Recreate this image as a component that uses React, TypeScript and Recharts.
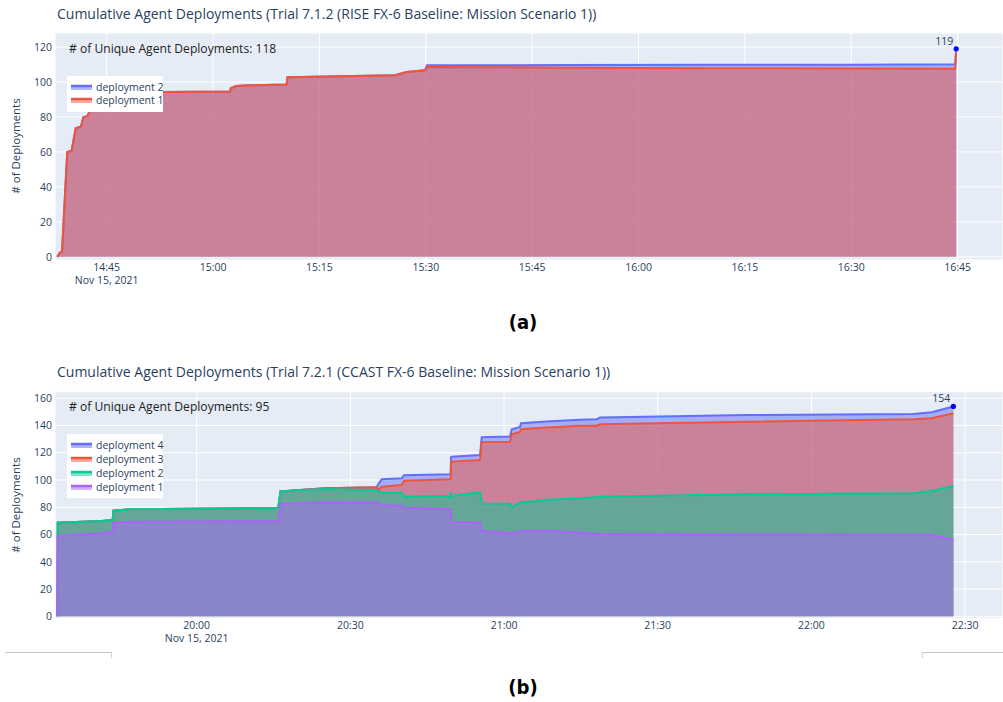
import React from 'react';
import { AreaChart, Area, XAxis, YAxis, CartesianGrid, Legend, ReferenceDot } from 'recharts';

const FONT = '"Open Sans", verdana, arial, sans-serif';
const TEXT = '#2a3f5f';
const BLUE = '#636efa';
const RED = '#EF553B';
const GREEN = '#00cc96';
const PURPLE = '#ab63fa';

// ---------- Chart (a): Trial 7.1.2 — x = minutes after 14:00 ----------
const timesA = [38.03, 38.41, 38.7, 39.44, 40.06, 40.63, 41.38, 41.7, 42.32, 42.64, 43.35, 44.05, 45.47, 47.6, 52.94, 62.4, 62.5, 63.24, 64.5, 70.36, 70.5, 85.66, 87.3, 89.9, 90.17, 110, 130, 150, 164.65, 164.8];
// cumulative (stacked) level through deployment 1
const cumDep1A = [0, 2.5, 3, 60, 60.7, 73.5, 74.5, 79.8, 80.6, 84, 88, 90.5, 92.5, 93.8, 94.2, 94.6, 96.4, 97.7, 98, 98.6, 102.7, 103.8, 105.7, 106.7, 108.6, 108.2, 107.9, 107.7, 107.5, 117];
// cumulative (stacked) level through deployment 2
const cumDep2A = [0, 2.5, 3, 60, 60.7, 73.5, 74.5, 79.8, 80.6, 84, 88, 90.5, 92.5, 93.8, 94.2, 94.6, 96.4, 97.7, 98, 98.6, 102.7, 103.8, 105.7, 106.7, 109.5, 109.7, 109.8, 109.9, 110.1, 119];
const xTicksA = [45, 60, 75, 90, 105, 120, 135, 150, 165];
const xTickLabelsA = ['14:45', '15:00', '15:15', '15:30', '15:45', '16:00', '16:15', '16:30', '16:45'];
const yTicksA = [0, 20, 40, 60, 80, 100, 120];
const uniqueA = 118;

// ---------- Chart (b): Trial 7.2.1 — x = minutes after 19:00 ----------
const timesB = [32.82, 32.88, 41.45, 43.6, 43.76, 46.98, 75.93, 76.36, 80.17, 85.05, 95.14, 95.46, 96.12, 100.02, 100.47, 109.45, 109.57, 109.65, 109.79, 115.31, 115.64, 121.17, 121.5, 123.12, 123.32, 128.33, 134.83, 138.09, 138.74, 167.38, 199.9, 203.5, 207.71];
const cumDep1B = [0, 59, 60.9, 62, 68.7, 69.4, 69.7, 82.2, 83, 83.7, 83.7, 83.3, 81.7, 81, 79.6, 78.5, 78.3, 70, 69.4, 68.9, 62.8, 60.9, 60.4, 62.4, 62.5, 62.8, 61.5, 60.4, 60.3, 60, 59.7, 59.8, 56];
const cumDep2B = [0, 68.7, 70, 70.7, 77.5, 78.5, 79.5, 91.7, 92.6, 93.4, 92.7, 91.5, 90.7, 90.7, 87.8, 88.3, 91, 86.3, 88.6, 90.9, 82.7, 82.5, 80, 83.4, 83.5, 85.4, 86.7, 87.3, 87.8, 89.5, 90.3, 92, 95.6];
const cumDep3B = [0, 68.7, 70, 70.7, 77.5, 78.5, 79.5, 91.7, 92.7, 94, 94.7, 92.8, 95.1, 96.4, 99.5, 100.5, 100.6, 113, 113.5, 114.7, 127.8, 128.1, 133.5, 135.2, 137.2, 138.5, 139.9, 139.9, 140.9, 142.8, 144.6, 145.3, 149];
const cumDep4B = [0, 68.7, 70, 70.7, 77.5, 78.5, 79.5, 91.7, 92.7, 94, 94.7, 97, 100.5, 101.3, 103.5, 104.2, 104.3, 116.8, 117.1, 118.4, 131.4, 132, 137.2, 139, 141.6, 143, 144.2, 144.6, 145.8, 147.7, 148.5, 149.7, 154];
const xTicksB = [60, 90, 120, 150, 180, 210];
const xTickLabelsB = ['20:00', '20:30', '21:00', '21:30', '22:00', '22:30'];
const yTicksB = [0, 20, 40, 60, 80, 100, 120, 140, 160];
const uniqueB = 95;

const dateLabel = 'Nov 15, 2021';

function buildRows(times: number[], series: Record<string, number[]>) {
  return times.map((t, i) => {
    const r: any = { t };
    for (const k of Object.keys(series)) r[k] = series[k][i];
    return r;
  });
}

const rowsA = buildRows(timesA, { dep1: cumDep1A, dep2: cumDep2A });
const rowsB = buildRows(timesB, { dep1: cumDep1B, dep2: cumDep2B, dep3: cumDep3B, dep4: cumDep4B });

const makeXTick = (ticks: number[], labels: string[]) => (props: any) => {
  const { x, y, payload } = props;
  const i = ticks.indexOf(payload.value);
  return (
    <g>
      <text x={x} y={y} dy={10.5} textAnchor="middle" fontSize={10.5} fill={TEXT} fontFamily={FONT}>
        {labels[i]}
      </text>
      {i === 0 && (
        <text x={x} y={y} dy={23.5} textAnchor="middle" fontSize={10.5} fill={TEXT} fontFamily={FONT}>
          {dateLabel}
        </text>
      )}
    </g>
  );
};

const makeLegend = (rowH: number, padTop: number) => (props: any) => {
  const items = [...(props.payload || [])].sort((a: any, b: any) => String(b.value).localeCompare(String(a.value)));
  return (
    <div
      style={{
        background: '#fff',
        paddingTop: padTop,
        paddingLeft: 4,
        fontFamily: FONT,
        fontSize: 10.5,
        color: TEXT,
        boxSizing: 'border-box',
        width: '100%',
        height: '100%',
      }}
    >
      {items.map((p: any) => (
        <div key={p.value} style={{ display: 'flex', alignItems: 'center', height: rowH, whiteSpace: 'nowrap' }}>
          <svg width={25} height={10} style={{ flex: 'none' }}>
            <rect x={0} y={4} width={21} height={4} fill={p.color} fillOpacity={0.5} />
            <line x1={0} x2={21} y1={4} y2={4} stroke={p.color} strokeWidth={2.5} />
          </svg>
          <span>{p.value}</span>
        </div>
      ))}
    </div>
  );
};

const endMarker = (value: number) => (p: any) => (
  <g>
    <circle cx={p.cx} cy={p.cy} r={2.6} fill="#0000ff" />
    <text x={p.cx - 12} y={p.cy - 4} textAnchor="middle" fontSize={10.5} fill={TEXT} fontFamily={FONT}>
      {value}
    </text>
  </g>
);

const titleStyle: React.CSSProperties = {
  position: 'absolute',
  left: 57,
  fontFamily: FONT,
  fontSize: 14,
  color: TEXT,
  whiteSpace: 'nowrap',
  lineHeight: '18px',
};

const annoStyle: React.CSSProperties = {
  position: 'absolute',
  left: 69,
  fontFamily: FONT,
  fontSize: 12.1,
  color: '#222',
  whiteSpace: 'nowrap',
  lineHeight: '16px',
};

const yTitleStyle = (cy: number): React.CSSProperties => ({
  position: 'absolute',
  left: 15,
  top: cy,
  transform: 'translate(-50%, -50%) rotate(-90deg)',
  fontFamily: FONT,
  fontSize: 11.5,
  color: TEXT,
  whiteSpace: 'nowrap',
});

const captionStyle = (cy: number): React.CSSProperties => ({
  position: 'absolute',
  left: 523,
  top: cy,
  transform: 'translate(-50%, -50%)',
  fontFamily: '"DejaVu Sans Condensed", "Liberation Sans Narrow", "DejaVu Sans", sans-serif',
  fontWeight: 'bold',
  fontSize: 20,
  color: '#000',
});

export default function App() {
  const lastA = timesA.length - 1;
  const lastB = timesB.length - 1;
  return (
    <div style={{ position: 'absolute', left: 0, top: 0, width: 1003, height: 702, background: '#fff', overflow: 'hidden' }}>
      {/* Chart (a) */}
      <div style={{ position: 'absolute', left: 0, top: 0 }}>
        <AreaChart width={1003} height={300} data={rowsA} margin={{ top: 33, right: 0, bottom: 0, left: 0 }}>
          <CartesianGrid fill="#E5ECF6" stroke="#ffffff" strokeWidth={1} />
          <XAxis
            dataKey="t"
            type="number"
            domain={[37.71, 171.4]}
            allowDataOverflow
            ticks={xTicksA}
            interval={0}
            height={40}
            tickSize={0}
            tickMargin={0}
            axisLine={false}
            tickLine={false}
            tick={makeXTick(xTicksA, xTickLabelsA)}
          />
          <YAxis
            type="number"
            domain={[-1.8, 128]}
            allowDataOverflow
            ticks={yTicksA}
            interval={0}
            width={55}
            tickSize={0}
            tickMargin={3}
            axisLine={false}
            tickLine={false}
            tick={{ fill: TEXT, fontSize: 10.5, fontFamily: FONT }}
          />
          <Area name="deployment 2" dataKey="dep2" type="linear" stroke={BLUE} strokeWidth={2} fill={BLUE} fillOpacity={0.5} baseValue={0} dot={false} activeDot={false} isAnimationActive={false} />
          <Area name="deployment 1" dataKey="dep1" type="linear" stroke={RED} strokeWidth={2} fill={RED} fillOpacity={0.5} baseValue={0} dot={false} activeDot={false} isAnimationActive={false} />
          <ReferenceDot x={timesA[lastA]} y={cumDep2A[lastA]} r={2.6} shape={endMarker(cumDep2A[lastA])} />
          <Legend
            layout="vertical"
            align="center"
            verticalAlign="middle"
            wrapperStyle={{ left: 67, top: 76, width: 96, height: 36 }}
            content={makeLegend(13.4, 4)}
          />
        </AreaChart>
      </div>
      <div style={{ ...titleStyle, top: 5 }}>Cumulative Agent Deployments (Trial 7.1.2 (RISE FX-6 Baseline: Mission Scenario 1))</div>
      <div style={{ ...annoStyle, top: 41 }}># of Unique Agent Deployments: {uniqueA}</div>
      <div style={yTitleStyle(146)}># of Deployments</div>
      <div style={captionStyle(322)}>(a)</div>

      {/* Chart (b) */}
      <div style={{ position: 'absolute', left: 0, top: 370 }}>
        <AreaChart width={1003} height={290} data={rowsB} margin={{ top: 21.7, right: 0, bottom: 0, left: 0 }}>
          <CartesianGrid fill="#E5ECF6" stroke="#ffffff" strokeWidth={1} />
          <XAxis
            dataKey="t"
            type="number"
            domain={[32.34, 217.4]}
            allowDataOverflow
            ticks={xTicksB}
            interval={0}
            height={41.7}
            tickSize={0}
            tickMargin={0}
            axisLine={false}
            tickLine={false}
            tick={makeXTick(xTicksB, xTickLabelsB)}
          />
          <YAxis
            type="number"
            domain={[-1.47, 164.8]}
            allowDataOverflow
            ticks={yTicksB}
            interval={0}
            width={55}
            tickSize={0}
            tickMargin={3}
            axisLine={false}
            tickLine={false}
            tick={{ fill: TEXT, fontSize: 10.5, fontFamily: FONT }}
          />
          <Area name="deployment 4" dataKey="dep4" type="linear" stroke={BLUE} strokeWidth={2} fill={BLUE} fillOpacity={0.5} baseValue={0} dot={false} activeDot={false} isAnimationActive={false} />
          <Area name="deployment 3" dataKey="dep3" type="linear" stroke={RED} strokeWidth={2} fill={RED} fillOpacity={0.5} baseValue={0} dot={false} activeDot={false} isAnimationActive={false} />
          <Area name="deployment 2" dataKey="dep2" type="linear" stroke={GREEN} strokeWidth={2} fill={GREEN} fillOpacity={0.5} baseValue={0} dot={false} activeDot={false} isAnimationActive={false} />
          <Area name="deployment 1" dataKey="dep1" type="linear" stroke={PURPLE} strokeWidth={2} fill={PURPLE} fillOpacity={0.5} baseValue={0} dot={false} activeDot={false} isAnimationActive={false} />
          <ReferenceDot x={timesB[lastB]} y={cumDep4B[lastB]} r={2.6} shape={endMarker(cumDep4B[lastB])} />
          <Legend
            layout="vertical"
            align="center"
            verticalAlign="middle"
            wrapperStyle={{ left: 67, top: 64, width: 96, height: 64 }}
            content={makeLegend(13.9, 4.5)}
          />
        </AreaChart>
      </div>
      <div style={{ ...titleStyle, top: 362.5 }}>Cumulative Agent Deployments (Trial 7.2.1 (CCAST FX-6 Baseline: Mission Scenario 1))</div>
      <div style={{ ...annoStyle, top: 399 }}># of Unique Agent Deployments: {uniqueB}</div>
      <div style={yTitleStyle(505)}># of Deployments</div>

      {/* thin frame fragments beneath chart (b) */}
      <div style={{ position: 'absolute', left: 5, top: 652, width: 107, height: 0, borderTop: '1.5px solid #c4c4c4' }} />
      <div style={{ position: 'absolute', left: 111, top: 652, width: 0, height: 6, borderLeft: '1px solid #d4d4d4' }} />
      <div style={{ position: 'absolute', left: 922, top: 652, width: 81, height: 0, borderTop: '1.5px solid #c4c4c4' }} />
      <div style={{ position: 'absolute', left: 922, top: 652, width: 0, height: 6, borderLeft: '1px solid #d4d4d4' }} />

      <div style={captionStyle(687)}>(b)</div>
    </div>
  );
}
